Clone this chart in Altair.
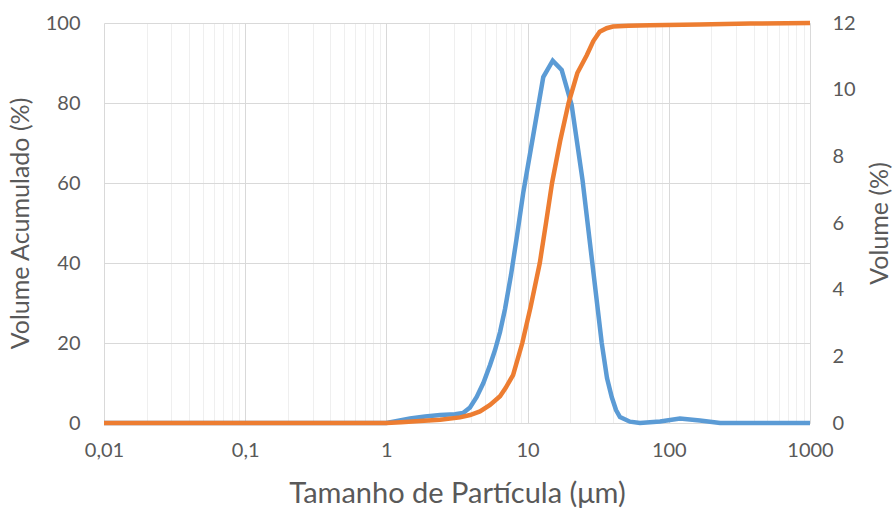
import altair as alt
import pandas as pd

# Volume (%) – frequency distribution (right axis)
size_freq = [0.01, 0.1, 1.0, 1.19, 1.47, 1.88, 2.40, 3.06, 3.49, 3.91, 4.36, 4.86, 5.42,
             5.88, 6.38, 6.92, 7.63, 8.41, 9.33, 10.97, 12.91, 15.06,
             17.43, 20.51, 24.49, 28.45, 33.5, 36.5, 39.43, 42.3, 45.1, 53.1, 62.5,
             86.7, 120, 166, 231, 1000]
vol_freq = [0, 0, 0, 0.06, 0.135, 0.195, 0.24, 0.26, 0.30, 0.465, 0.78, 1.20, 1.74,
            2.19, 2.73, 3.42, 4.44, 5.61, 6.93, 8.64, 10.38, 10.87,
            10.59, 9.54, 7.29, 4.95, 2.40, 1.35, 0.78, 0.39, 0.18, 0.04, 0,
            0.045, 0.135, 0.075, 0, 0]

# Volume acumulado (%) – cumulative (left axis)
size_cum = [0.01, 0.1, 1.0, 1.27, 1.73, 2.40, 3.32, 3.91, 4.60, 5.42, 6.38, 7.0, 7.89,
            9.17, 10.5, 12.2, 13.5, 14.9, 17.0, 19.5, 22.5, 26.3, 29.2, 32.4, 36.3,
            40.2, 51.8, 73.3, 164, 380, 1000]
vol_cum = [0, 0, 0, 0.2, 0.5, 0.8, 1.4, 2.0, 2.9, 4.5, 6.7, 8.8, 12,
           20, 29, 40, 50, 60, 70.5, 80, 87.5, 92, 95.5, 97.8, 98.7,
           99.1, 99.3, 99.45, 99.65, 99.85, 100]

x_major = [0.01, 0.1, 1, 10, 100, 1000]
x_major_labels = ["0,01", "0,1", "1", "10", "100", "1000"]
x_minor_mult = [1, 2, 3, 4, 5, 6, 7, 8, 9]
y_left_ticks = [0, 20, 40, 60, 80, 100]
y_right_ticks = [0, 2, 4, 6, 8, 10, 12]

x_ticks = []
for d in x_major[:-1]:
    for m in x_minor_mult:
        x_ticks.append(round(d * m, 6))
x_ticks.append(x_major[-1])

label_expr = ""
for v, lab in zip(x_major, x_major_labels):
    label_expr += f"abs(datum.value - {v}) < 1e-9 ? '{lab}' : "
label_expr += "''"

FONT = "Lato"
TXT = "#595959"

df_freq = pd.DataFrame({"size": size_freq, "vol": vol_freq})
df_cum = pd.DataFrame({"size": size_cum, "vol": vol_cum})

x_enc = alt.X(
    "size:Q",
    scale=alt.Scale(type="log", domain=[0.01, 1000]),
    axis=alt.Axis(
        values=x_ticks,
        labelExpr=label_expr,
        title="Tamanho de Partícula (μm)",
        grid=True,
        gridColor={"condition": {"test": "abs(log(datum.value)/LN10 - round(log(datum.value)/LN10)) < 0.001", "value": "#D9D9D9"}, "value": "#EFEFEF"},
        gridWidth=1,
        ticks=False,
        domain=False,
        labelOverlap=False,
        labelFlush=False,
        labelPadding=17,
        labelFontSize=20,
        labelColor=TXT,
        labelFont=FONT,
        titleFont=FONT,
        titleFontSize=29,
        titleFontWeight="normal",
        titleColor=TXT,
        titlePadding=19,
    ),
)

freq = alt.Chart(df_freq).mark_line(color="#5B9BD5", strokeWidth=4.5).encode(
    x=x_enc,
    y=alt.Y(
        "vol:Q",
        scale=alt.Scale(domain=[0, 12], nice=False),
        axis=alt.Axis(
            orient="right",
            values=y_right_ticks,
            title="Volume (%)",
            titleAngle=270,
            titleBaseline="top",
            grid=False,
            ticks=False,
            domain=False,
            labelPadding=22,
            labelFontSize=20,
            labelColor=TXT,
            labelFont=FONT,
            titleFont=FONT,
            titleFontSize=25,
            titleFontWeight="normal",
            titleColor=TXT,
            titlePadding=12,
        ),
    ),
)

cum = alt.Chart(df_cum).mark_line(color="#ED7D31", strokeWidth=4.5).encode(
    x=x_enc,
    y=alt.Y(
        "vol:Q",
        scale=alt.Scale(domain=[0, 100], nice=False),
        axis=alt.Axis(
            orient="left",
            values=y_left_ticks,
            title="Volume Acumulado (%)",
            grid=True,
            gridColor="#D9D9D9",
            gridWidth=1,
            ticks=False,
            domain=False,
            labelPadding=24,
            labelFontSize=20,
            labelColor=TXT,
            labelFont=FONT,
            titleFont=FONT,
            titleFontSize=25,
            titleFontWeight="normal",
            titleColor=TXT,
            titlePadding=12,
        ),
    ),
)

chart = (
    alt.layer(freq, cum)
    .resolve_scale(y="independent")
    .properties(
        width=706,
        height=400,
        autosize=alt.AutoSizeParams(type="none"),
        padding={"left": 104, "top": 23, "right": 86, "bottom": 87},
        background="white",
    )
    .configure_view(stroke=None)
)

chart.save("out.html", embed_options={"renderer": "svg", "actions": False})
